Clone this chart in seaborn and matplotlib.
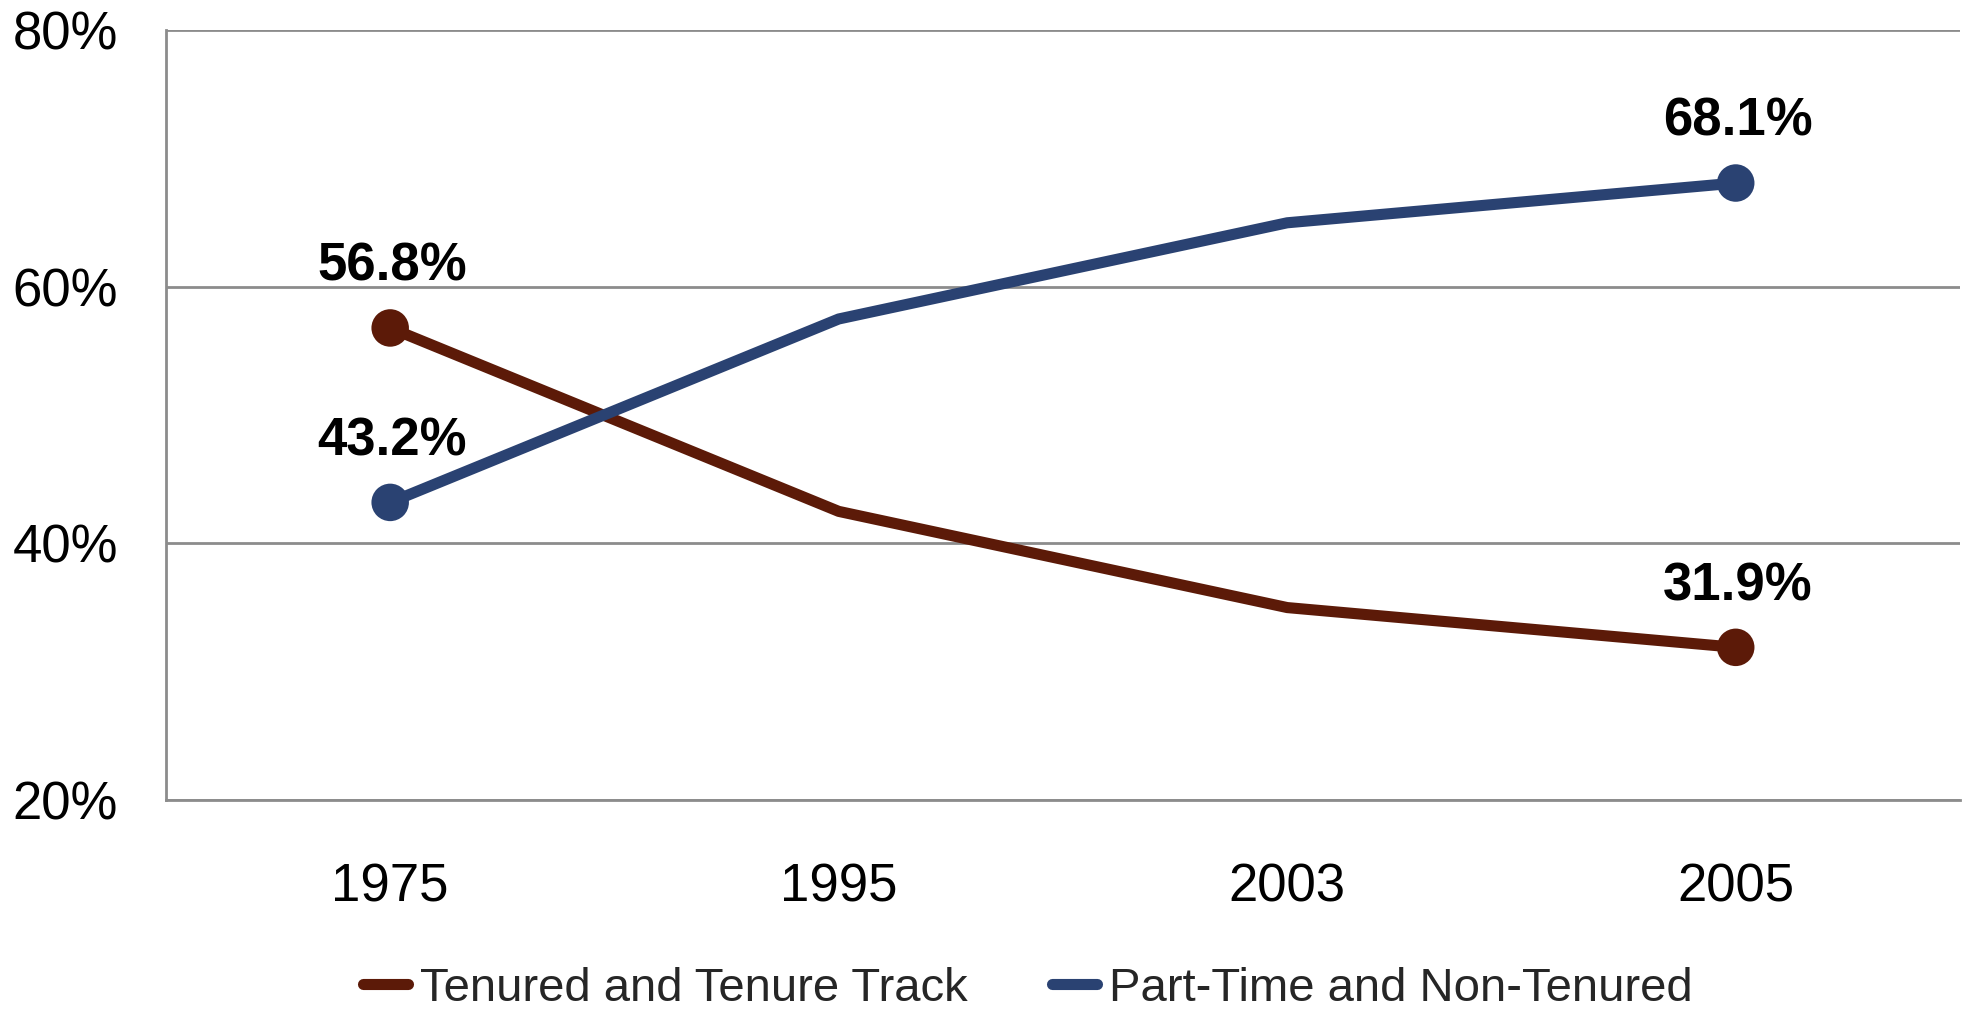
import matplotlib
matplotlib.use("Agg")
import numpy as np
import pandas as pd
import seaborn as sns
import matplotlib.pyplot as plt
from matplotlib.lines import Line2D
from matplotlib.ticker import FixedLocator, FuncFormatter

# values
years = ["1975", "1995", "2003", "2005"]
tenured = [56.8, 42.5, 35.0, 31.9]
part_time = [43.2, 57.5, 65.0, 68.1]
series = ["Tenured and Tenure Track", "Part-Time and Non-Tenured"]
colors = ["#5C1A08", "#2A4272"]
y_ticks = [20, 40, 60, 80]

rows = []
for name, vals in zip(series, [tenured, part_time]):
    for i, (yr, v) in enumerate(zip(years, vals)):
        rows.append({"pos": i, "year": yr, "share": v, "group": name})
df = pd.DataFrame(rows)

sns.set_style("white")
plt.rcParams['font.family'] = ['Liberation Sans', 'DejaVu Sans']

fig, ax = plt.subplots(figsize=(19.73, 10.13), dpi=100)
fig.subplots_adjust(left=0.0841, right=0.9934, top=0.970, bottom=0.2103)

grey = "#8C8C8C"
ax.set_ylim(y_ticks[0], y_ticks[-1])
ax.set_xlim(-0.5, len(years) - 0.5)
ax.set_yticks(y_ticks)
ax.yaxis.set_major_formatter(FuncFormatter(lambda v, p: f"{v:.0f}%"))
ax.yaxis.grid(True, color=grey, linewidth=2)
ax.set_axisbelow(True)

sns.lineplot(data=df, x="pos", y="share", hue="group", palette=colors,
             linewidth=8, ax=ax, legend=False, solid_capstyle="butt", zorder=3)
ends = df[df["pos"].isin([0, len(years) - 1])]
sns.scatterplot(data=ends, x="pos", y="share", hue="group", palette=colors,
                s=27 ** 2, ax=ax, legend=False, edgecolor="none", zorder=4)

for _, r in ends.iterrows():
    ax.annotate(f"{r['share']:.1f}%", (r["pos"], r["share"]), xytext=(1.5, 44),
                textcoords="offset points", ha="center", va="center",
                fontsize=38, fontweight="bold", color="black")

ax.set_xticks(range(len(years)))
ax.set_xticklabels(years)
ax.xaxis.set_minor_locator(FixedLocator(np.arange(-0.5, len(years), 1.0)))
ax.tick_params(axis="x", which="major", length=0, pad=45, labelsize=38, colors="black")
ax.tick_params(axis="x", which="minor", direction="in", length=11, width=2, color=grey)
ax.tick_params(axis="y", which="major", direction="out", length=11.5, width=2,
               color=grey, pad=23, labelsize=38, labelcolor="black")
ax.set_xlabel("")
ax.set_ylabel("")

for side in ["top", "right"]:
    ax.spines[side].set_visible(False)
for side in ["left", "bottom"]:
    ax.spines[side].set_color(grey)
    ax.spines[side].set_linewidth(2)

handles = [Line2D([0], [0], color=c, linewidth=8, solid_capstyle="round") for c in colors]
fig.legend(handles, series, loc="center", bbox_to_anchor=(0.521, 0.024), ncol=2,
           frameon=False, handlelength=0.95, handletextpad=0.25, columnspacing=1.8,
           fontsize=34)

fig.savefig("out.png", dpi=100)
